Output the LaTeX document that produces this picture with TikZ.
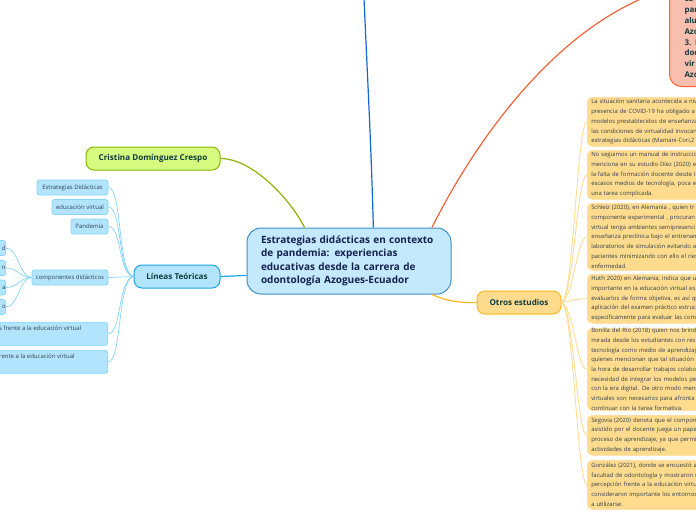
\documentclass[tikz,border=0pt]{standalone}
\usepackage{fontspec}
\setmainfont{Open Sans}
\definecolor{rootfill}{HTML}{C4E9FD}
\definecolor{rootline}{HTML}{3D8FCB}
\definecolor{rootink}{HTML}{14204E}
\definecolor{mainink}{HTML}{0F3B3A}
\definecolor{leafink}{HTML}{2F4050}
\definecolor{greenfill}{HTML}{D6F97F}
\definecolor{greenline}{HTML}{8DB404}
\definecolor{bluefill}{HTML}{B2E5FD}
\definecolor{blueline}{HTML}{1BA6E8}
\definecolor{leafline}{HTML}{82D4FA}
\definecolor{darkblue}{HTML}{1565D8}
\definecolor{redfill}{HTML}{F9BFAE}
\definecolor{redline}{HTML}{F4623A}
\definecolor{yellowfill}{HTML}{FFDB8E}
\definecolor{yellowline}{HTML}{FFB81F}
\definecolor{noteline}{HTML}{FFDC94}
\tikzset{
  rootbox/.style={draw=rootline, fill=rootfill, line width=1pt, rounded corners=14pt, text=rootink, align=left,
    font=\fontsize{10}{13.5}\selectfont\bfseries, minimum width=204pt, minimum height=66pt, text width=176pt, inner sep=0pt},
  mainbox/.style={line width=1pt, rounded corners=8pt, text=mainink, font=\fontsize{8.1}{9}\selectfont\bfseries,
    minimum height=23pt, inner sep=0pt},
  leafbox/.style={draw=leafline, fill=bluefill, line width=.7pt, rounded corners=2.5pt, text=leafink,
    font=\fontsize{6}{9}\selectfont, minimum height=15pt, inner sep=0pt},
  notebox/.style={fill=yellowfill, draw=noteline, line width=.5pt, rounded corners=5pt, text=leafink, align=left, anchor=north west,
    font=\fontsize{5.9}{9.7}\selectfont, minimum width=240pt, text width=232pt, inner sep=0pt},
  leafedge/.style={draw=leafline, line width=.7pt},
  noteedge/.style={draw=noteline, line width=.9pt},
}
\begin{document}
\begin{tikzpicture}[x=1pt, y=-1pt]
  \useasboundingbox (0, 0) rectangle (696, 520);
  \clip (0, 0) rectangle (696, 520);
  % centre
  \node[rootbox] (central) at (349, 261) {Estrategias didácticas en contexto\\de pandemia: experiencias\\educativas desde la carrera de\\odontología Azogues-Ecuador};
  % main branches
  \node[mainbox, draw=greenline, fill=greenfill, minimum width=134pt] (cristina) at (153, 158.5) {Cristina Domínguez Crespo};
  \node[mainbox, draw=blueline, fill=bluefill, minimum width=86pt] (lineas) at (177, 276.5) {Líneas Teóricas};
  \node[mainbox, draw=yellowline, fill=yellowfill, minimum width=84pt] (otros) at (519, 302.5) {Otros estudios};
  \node[draw=redline, fill=redfill, line width=1pt, rounded corners=12pt, text=mainink, align=left, anchor=south west,
    font=\fontsize{7.9}{10.85}\selectfont\bfseries, minimum width=120pt, minimum height=98pt, text width=90pt, inner sep=0pt] (objetivos) at (669, 87)
    {ca\\par\\alu\\Azo\\3. D\\doc\\vir\\Azo};
  \coordinate (topblue) at (364, -2);
  \coordinate (topred) at (648, -4);
  % left leaves
  \node[leafbox, minimum width=71pt] (estrategias) at (72.5, 187.5) {Estrategias Didácticas};
  \node[leafbox, minimum width=56pt] (educacion) at (80, 207) {educación virtual};
  \node[leafbox, minimum width=37pt] (pandemia) at (89.5, 226.5) {Pandemia};
  \node[leafbox, minimum width=76pt] (componentes) at (70, 277.5) {componentes didácticos};
  \node[leafbox, anchor=east, text width=40pt, align=right] (compa) at (6, 248) {d\hspace{1.5pt}};
  \node[leafbox, anchor=east, text width=40pt, align=right] (compb) at (6, 268) {n\hspace{1.5pt}};
  \node[leafbox, anchor=east, text width=40pt, align=right] (compc) at (6, 287.5) {a\hspace{1.5pt}};
  \node[leafbox, anchor=east, text width=40pt, align=right] (compd) at (6, 307) {o\hspace{1.5pt}};
  \node[leafbox, anchor=north east, minimum width=140pt, minimum height=23pt] (frentea) at (108, 322) {};
  \node[leafbox, anchor=north east, minimum width=140pt, minimum height=23pt] (frenteb) at (108, 350) {};
  \node[font=\fontsize{6}{9}\selectfont, text=leafink, anchor=west, inner sep=0pt] (textoa) at (-1, 328.5) {s frente a la educación virtual};
  \node[font=\fontsize{6}{9}\selectfont, text=leafink, anchor=west, inner sep=0pt] (textob) at (-1, 356.5) {rente a la educación virtual};
  % right notes
  \node[notebox, minimum height=49pt] (notea) at (587, 97) {La situación sanitaria acontecida a niv\\presencia de COVID-19 ha obligado a\\modelos prestablecidos de enseñanza\\las condiciones de virtualidad invocan\\estrategias didácticas (Mamani-Cori,2};
  \node[notebox, minimum height=49pt] (noteb) at (587, 150) {No seguimos un manual de instruccio\\menciona en su estudio Díez (2020) e\\la falta de formación docente desde la\\escasos medios de tecnología, poca e\\una tarea complicada.};
  \node[notebox, minimum height=67pt] (notec) at (587, 203) {Schleiz (2020), en Alemania , quien tr\\componente experimental , procuran\\virtual tenga ambientes semipresenci\\enseñanza preclínica bajo el entrenam\\laboratorios de simulación evitando a\\pacientes minimizando con ello el ries\\enfermedad.};
  \node[notebox, minimum height=49pt] (noted) at (587, 274) {Huth 2020) en Alemania, indica que u\\importante en la educación virtual es\\evaluarlos de forma objetiva, es así qu\\aplicación del examen práctico estruc\\específicamente para evaluar las com};
  \node[notebox, minimum height=82pt] (notee) at (587, 328) {Bonilla del Río (2018) quien nos brinda\\mirada desde los estudiantes con res\\tecnología como medio de aprendizaj\\quienes mencionan que tal situación l\\la hora de desarrollar trabajos colabo\\necesidad de integrar los modelos pe\\con la era digital. De otro modo menc\\virtuales son necesarios para afronta\\continuar con la tarea formativa.};
  \node[notebox, minimum height=40pt] (notef) at (587, 415) {Segovia (2020) denota que el compon\\asistido por el docente juega un pape\\proceso de aprendizaje, ya que permi\\actividades de aprendizaje.};
  \node[notebox, minimum height=49pt] (noteg) at (587, 460) {González (2021), donde se encuestó a\\facultad de odontología y mostraron u\\percepción frente a la educación virtu\\consideraron importante los entornos\\a utilizarse.};
  % branches from the centre
  \draw[greenline, line width=1.2pt] (central.143) .. controls +(-14, -28) and +(32, 0) .. (cristina.east);
  \draw[darkblue, line width=1.2pt] (central.54) .. controls +(-2, -80) and +(3, 70) .. (topblue);
  \draw[redline, line width=1.2pt] (central.22) .. controls +(40, -80) and +(-100, 40) .. (topred);
  \draw[yellowline, line width=1.2pt] (central.-22) .. controls +(18, 8) and +(-14, 0) .. (otros.west);
  \draw[blueline, line width=1.2pt] (central.188) -- (lineas.east);
  % blue leaves
  \draw[leafedge] (lineas.west) .. controls +(-16, -3) and +(14, 0) .. (estrategias.east);
  \draw[leafedge] (lineas.west) .. controls +(-16, -3) and +(14, 0) .. (educacion.east);
  \draw[leafedge] (lineas.west) .. controls +(-16, -3) and +(14, 0) .. (pandemia.east);
  \draw[leafedge] (lineas.west) -- (componentes.east);
  \draw[leafedge] (lineas.west) .. controls +(-16, 3) and +(14, 0) .. (frentea.east);
  \draw[leafedge] (lineas.west) .. controls +(-16, 3) and +(14, 0) .. (frenteb.east);
  \draw[leafedge] (componentes.west) .. controls +(-12, 0) and +(12, 0) .. (compa.east);
  \draw[leafedge] (componentes.west) .. controls +(-12, 0) and +(12, 0) .. (compb.east);
  \draw[leafedge] (componentes.west) .. controls +(-12, 0) and +(12, 0) .. (compc.east);
  \draw[leafedge] (componentes.west) .. controls +(-12, 0) and +(12, 0) .. (compd.east);
  % yellow leaves
  \draw[noteedge] (otros.east) .. controls +(12, -4) and +(-10, 0) .. (notea.west);
  \draw[noteedge] (otros.east) .. controls +(12, -4) and +(-10, 0) .. (noteb.west);
  \draw[noteedge] (otros.east) .. controls +(12, -4) and +(-10, 0) .. (notec.west);
  \draw[noteedge] (otros.east) .. controls +(12, -2) and +(-12, 0) .. (noted.west);
  \draw[noteedge] (otros.east) .. controls +(12, 4) and +(-10, 0) .. (notee.west);
  \draw[noteedge] (otros.east) .. controls +(12, 4) and +(-10, 0) .. (notef.west);
  \draw[noteedge] (otros.east) .. controls +(12, 4) and +(-10, 0) .. (noteg.west);
\end{tikzpicture}
\end{document}
